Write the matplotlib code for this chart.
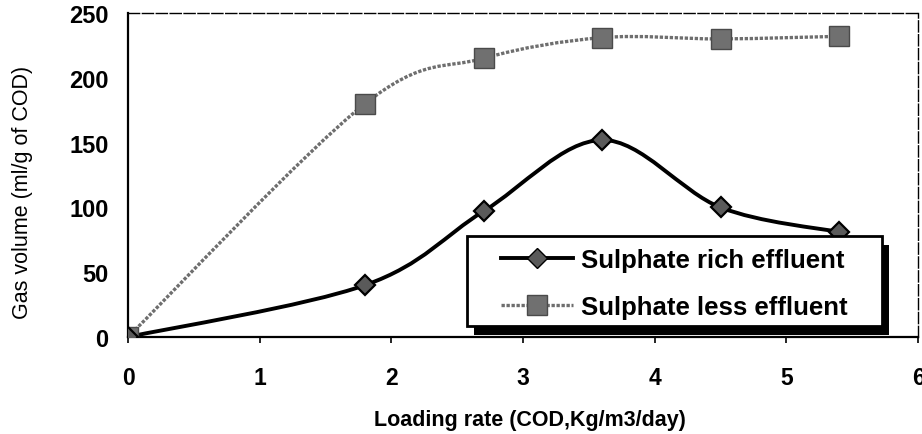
import numpy as np
import matplotlib
matplotlib.use("Agg")
import matplotlib.pyplot as plt
from matplotlib.path import Path
from matplotlib.patches import PathPatch, Rectangle
from matplotlib.lines import Line2D

loading_rate = [0, 1.8, 2.7, 3.6, 4.5, 5.4]
sulphate_rich = [0, 40, 97, 152, 100, 81]
sulphate_less = [0, 180, 215, 231, 230, 232]
x_ticks = [0, 1, 2, 3, 4, 5, 6]
y_ticks = [0, 50, 100, 150, 200, 250]

plt.rcParams['font.family'] = ['Liberation Sans', 'DejaVu Sans']

W, H = 922, 435
fig = plt.figure(figsize=(W/100, H/100), dpi=100)
ax_l, ax_r, ax_t, ax_b = 128, 918, 14, 338
ax = fig.add_axes([ax_l/W, 1-ax_b/H, (ax_r-ax_l)/W, (ax_b-ax_t)/H])
aw, ah = ax_r-ax_l, ax_b-ax_t


def smooth_path(xs, ys, tension=0.5):
    # Catmull-Rom style Bezier control points (like Excel smoothed lines)
    pts = np.column_stack([xs, ys]).astype(float)
    n = len(pts)
    verts = [pts[0]]
    codes = [Path.MOVETO]
    for i in range(n - 1):
        p0 = pts[i - 1] if i > 0 else pts[i]
        p1 = pts[i]
        p2 = pts[i + 1]
        p3 = pts[i + 2] if i + 2 < n else pts[i + 1]
        c1 = p1 + (p2 - p0) * tension / 3
        c2 = p2 - (p3 - p1) * tension / 3
        verts += [c1, c2, p2]
        codes += [Path.CURVE4] * 3
    return Path(verts, codes)

less_color = '#6e6e6e'
ax.add_patch(PathPatch(smooth_path(loading_rate, sulphate_less), facecolor='none',
                       edgecolor=less_color, lw=2.4, linestyle=(0, (1, 0.5)), zorder=2))
ax.add_patch(PathPatch(smooth_path(loading_rate, sulphate_rich), facecolor='none',
                       edgecolor='black', lw=2.8, zorder=2))

ax.plot(loading_rate, sulphate_less, linestyle='none', marker='s', markersize=14,
        markerfacecolor='#707070', markeredgecolor='#4a4a4a', markeredgewidth=1, zorder=3)
ax.plot(loading_rate, sulphate_rich, linestyle='none', marker='D', markersize=10,
        markerfacecolor='#5a5a5a', markeredgecolor='black', markeredgewidth=1.6, zorder=4)

ax.set_xlim(0, 6)
ax.set_ylim(0, 250)
ax.set_xticks(x_ticks)
ax.set_yticks(y_ticks)
ax.tick_params(axis='x', labelsize=16.5, width=1.2, direction='out', length=4, pad=17)
ax.tick_params(axis='y', labelsize=17, length=0, pad=14)
for lab in ax.get_xticklabels() + ax.get_yticklabels():
    lab.set_fontweight('bold')

for s in ['left', 'bottom']:
    ax.spines[s].set_linewidth(1.6)
for s in ['top', 'right']:
    ax.spines[s].set_linewidth(1.0)
    ax.spines[s].set_linestyle((0, (8, 2)))

ax.set_xlabel('Loading rate (COD,Kg/m3/day)', fontsize=15.5, fontweight='bold')
ax.xaxis.label.set_va('center')
ax.xaxis.set_label_coords((530-ax_l)/aw, (ax_b-421)/ah)
ax.set_ylabel('Gas volume (ml/g of COD)', fontsize=15.5)
ax.yaxis.label.set_va('center')
ax.yaxis.set_label_coords((22-ax_l)/aw, (ax_b-192)/ah)

# legend box with solid drop shadow
bx0, bx1, by0, by1 = 467, 882, 237, 327
sh_dx, sh_dy = 7, 9
ax.add_patch(Rectangle(((bx0+sh_dx-ax_l)/aw, (ax_b-by1-sh_dy)/ah), (bx1-bx0)/aw, (by1-by0)/ah,
                       transform=ax.transAxes, facecolor='black', edgecolor='none',
                       clip_on=False, zorder=5))
ax.add_patch(Rectangle(((bx0-ax_l)/aw, (ax_b-by1)/ah), (bx1-bx0)/aw, (by1-by0)/ah,
                       transform=ax.transAxes, facecolor='white', edgecolor='black', lw=2,
                       clip_on=False, zorder=5.1))

handles = [
    Line2D([], [], color='black', lw=2.8, marker='D', markersize=10,
           markerfacecolor='#5a5a5a', markeredgecolor='black'),
    Line2D([], [], color=less_color, lw=2.4, linestyle=(0, (1, 0.5)), marker='s', markersize=14,
           markerfacecolor='#707070', markeredgecolor='#4a4a4a'),
]
leg = ax.legend(handles, ['Sulphate rich effluent', 'Sulphate less effluent'],
                loc='center',
                bbox_to_anchor=((bx0-ax_l)/aw, (ax_b-by1-2.5)/ah, (bx1-bx0)/aw, (by1-by0)/ah),
                prop={'weight': 'bold', 'size': 18.5}, frameon=False,
                handlelength=2.8, borderaxespad=0, labelspacing=0.9, handletextpad=0.3,
                borderpad=0)
leg.set_zorder(6)

fig.savefig('out.png', dpi=100)
